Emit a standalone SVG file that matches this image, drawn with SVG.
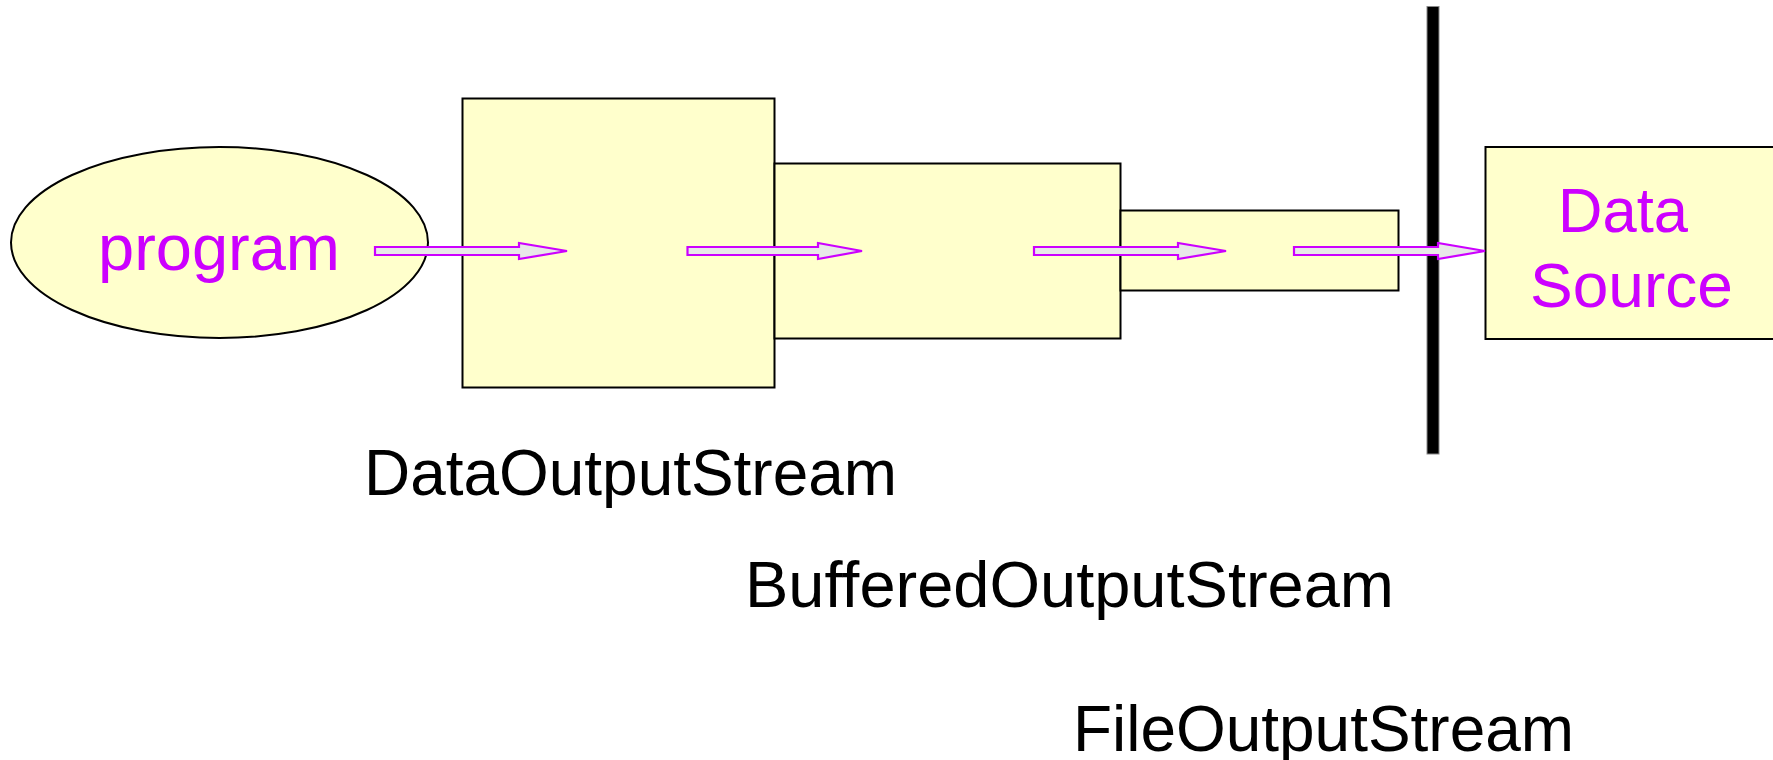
<svg xmlns="http://www.w3.org/2000/svg" width="1773" height="760" viewBox="0 0 1773 760">
  <style>
    .node { fill: #FFFFCC; stroke: #000; stroke-width: 2; }
    .label { font-family: "Liberation Sans", Arial, sans-serif; fill: #000; font-size: 64px; }
    .inner { font-family: "Liberation Sans", Arial, sans-serif; fill: #CC00FF; }
    .flow { fill: #E8E8E8; stroke: #CC00FF; stroke-width: 2.2; stroke-linejoin: miter; }
  </style>
  <rect width="1773" height="760" fill="#fff"/>

  <g id="program">
    <ellipse class="node" cx="219.5" cy="242.5" rx="208.5" ry="95.5"/>
    <text class="inner" x="98" y="270" font-size="64" textLength="242" lengthAdjust="spacingAndGlyphs">program</text>
  </g>

  <g id="data-output-stream">
    <rect class="node" x="462.5" y="98.5" width="312" height="289"/>
    <text class="label" x="364" y="495" textLength="533" lengthAdjust="spacingAndGlyphs">DataOutputStream</text>
  </g>

  <g id="buffered-output-stream">
    <rect class="node" x="774.5" y="163.5" width="346" height="175"/>
    <text class="label" x="745" y="607" textLength="649" lengthAdjust="spacingAndGlyphs">BufferedOutputStream</text>
  </g>

  <g id="file-output-stream">
    <rect class="node" x="1120.5" y="210.5" width="278" height="80"/>
    <text class="label" x="1073" y="751" textLength="501" lengthAdjust="spacingAndGlyphs">FileOutputStream</text>
  </g>

  <g id="boundary">
    <rect x="1427" y="6.5" width="12" height="447.5" fill="#000" stroke="#888" stroke-width="1"/>
  </g>

  <g id="data-source">
    <rect class="node" x="1485.5" y="147" width="320" height="192"/>
    <text class="inner" x="1558" y="231.5" font-size="63" textLength="130" lengthAdjust="spacingAndGlyphs">Data</text>
    <text class="inner" x="1530" y="306.5" font-size="63" textLength="203" lengthAdjust="spacingAndGlyphs">Source</text>
  </g>

  <g id="connectors">
    <polygon class="flow" points="375,247 519,247 519,243 567,251 519,259 519,255 375,255"/>
    <polygon class="flow" points="687.5,247 818,247 818,243 862,251 818,259 818,255 687.5,255"/>
    <polygon class="flow" points="1034,247 1178,247 1178,243 1226,251 1178,259 1178,255 1034,255"/>
    <polygon class="flow" points="1294,247 1438,247 1438,243 1485,251 1438,259 1438,255 1294,255"/>
  </g>
</svg>
